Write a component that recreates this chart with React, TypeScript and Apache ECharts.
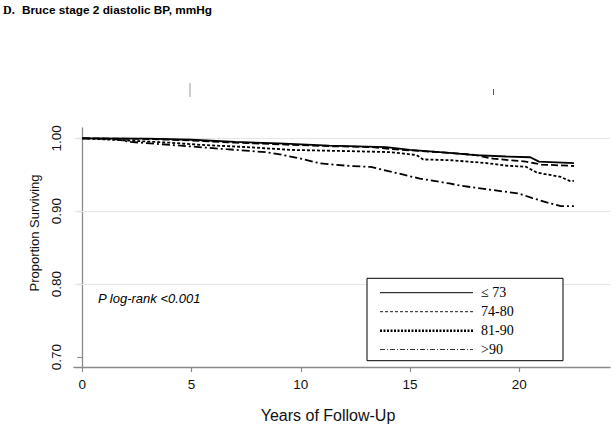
import React, { useEffect, useRef } from "react";
import * as echarts from "echarts";

const categories = ["\u2264 73", "74-80", "81-90", ">90"];

const yearsLe73 = [0, 3, 5, 7, 9, 11.3, 13.9, 15, 16.8, 18, 19.4, 20.5, 20.9, 22.5];
const survLe73 = [1.0, 0.9995, 0.998, 0.995, 0.993, 0.99, 0.988, 0.984, 0.98, 0.977, 0.975, 0.974, 0.968, 0.966];

const years7480 = [0, 3, 5, 7, 9.6, 11.5, 13.2, 14.2, 16.8, 18, 18.8, 20.3, 21, 22.5];
const surv7480 = [1.0, 0.999, 0.997, 0.994, 0.991, 0.989, 0.988, 0.985, 0.98, 0.977, 0.972, 0.968, 0.964, 0.962];

const years8190 = [0, 2, 4, 5.4, 7.5, 9.6, 12, 14.1, 15.3, 15.6, 16.8, 18.5, 19.4, 20.3, 20.8, 21.9, 22.3, 22.5];
const surv8190 = [1.0, 0.997, 0.994, 0.991, 0.988, 0.984, 0.9825, 0.981, 0.977, 0.971, 0.97, 0.966, 0.9625, 0.961, 0.953, 0.947, 0.9415, 0.9415];

const yearsGt90 = [0, 1.5, 2.2, 4, 6.6, 8.4, 9.2, 10, 10.9, 12.25, 13.2, 14.5, 15.45, 16.8, 17.3, 18.8, 20, 20.6, 21.25, 21.9, 22.5];
const survGt90 = [1.0, 0.999, 0.995, 0.991, 0.985, 0.981, 0.977, 0.972, 0.9655, 0.962, 0.9607, 0.9515, 0.9447, 0.938, 0.935, 0.929, 0.924, 0.918, 0.912, 0.907, 0.907];

const xTicks = [0, 5, 10, 15, 20];
const yTicks = [0.7, 0.8, 0.9, 1.0];
const gridValues = [0.8, 0.9, 1.0];

const titlePrefix = "D.";
const titleText = "Bruce stage 2 diastolic BP, mmHg";
const yName = "Proportion Surviving";
const xName = "Years of Follow-Up";
const pLabel = "P log-rank <0.001";

const zip = (xs: number[], ys: number[]) => xs.map((x, i) => [x, ys[i]]);

export default function App() {
  const ref = useRef<HTMLDivElement>(null);
  useEffect(() => {
    if (!ref.current) return;
    const chart = echarts.init(ref.current, null, { renderer: "svg" });
    const seriesData = [
      zip(yearsLe73, survLe73),
      zip(years7480, surv7480),
      zip(years8190, surv8190),
      zip(yearsGt90, survGt90),
    ];
    const plotStyles: any[] = [
      { type: "solid", width: 1.8 },
      { type: [7, 3], width: 1.8 },
      { type: [3, 2], width: 1.8 },
      { type: [8, 3, 2, 3], width: 1.8 },
    ];
    const legendStyles: any[] = [
      { lineDash: null, lineWidth: 1 },
      { lineDash: [3, 2], lineWidth: 0.9 },
      { lineDash: [2, 1.5], lineWidth: 2.6 },
      { lineDash: [5, 2, 1, 2], lineWidth: 0.8 },
    ];
    const legendRows = [292.7, 311.7, 330.7, 349.5];
    const legendGraphics: any[] = [];
    categories.forEach((c, i) => {
      legendGraphics.push({
        type: "line",
        shape: { x1: 380, y1: legendRows[i], x2: 473, y2: legendRows[i] },
        style: { stroke: "#000", lineWidth: legendStyles[i].lineWidth, lineDash: legendStyles[i].lineDash },
        z: 10,
      });
      legendGraphics.push({
        type: "text",
        x: 481,
        y: legendRows[i],
        style: {
          text: c,
          font: "14px 'Liberation Serif', 'Times New Roman', serif",
          fill: "#000",
          verticalAlign: "middle",
        },
        z: 10,
      });
    });

    const option: any = {
      animation: false,
      grid: { left: 74, right: 4, top: 128, bottom: 68, containLabel: false },
      xAxis: {
        type: "value",
        min: -0.38,
        max: 24.15,
        axisLine: { show: true, lineStyle: { color: "#8a8a8a", width: 1.3 } },
        axisTick: { show: true, length: 5, customValues: xTicks, lineStyle: { color: "#8a8a8a", width: 1.2 } },
        axisLabel: {
          customValues: xTicks,
          margin: 10,
          fontSize: 13.5,
          color: "#111",
          fontFamily: "'Liberation Sans', Arial, sans-serif",
        },
        splitLine: { show: false },
      },
      yAxis: {
        type: "value",
        min: 0.6863,
        max: 1.0141,
        axisLine: { show: true, lineStyle: { color: "#8a8a8a", width: 1.3 } },
        axisTick: { show: true, length: 5, customValues: yTicks, lineStyle: { color: "#8a8a8a", width: 1.2 } },
        axisLabel: {
          customValues: yTicks,
          rotate: 90,
          margin: 11,
          fontSize: 13.5,
          color: "#111",
          fontFamily: "'Liberation Sans', Arial, sans-serif",
          formatter: (v: number) => v.toFixed(2),
        },
        splitLine: { show: false },
      },
      series: [
        {
          type: "line",
          data: [[0, 1]],
          showSymbol: false,
          symbol: "none",
          lineStyle: { opacity: 0 },
          silent: true,
          z: 1,
          markLine: {
            silent: true,
            symbol: ["none", "none"],
            label: { show: false },
            lineStyle: { color: "#e6e6e6", width: 1, type: "solid" },
            data: gridValues.map((v) => ({ yAxis: v })),
          },
        },
        ...seriesData.map((d, i) => ({
          type: "line",
          name: categories[i],
          data: d,
          showSymbol: false,
          symbol: "none",
          z: 5,
          lineStyle: { color: "#000", ...plotStyles[i] },
        })),
      ],
      graphic: [
        {
          type: "text",
          x: 3,
          y: 3.5,
          style: {
            text: titlePrefix,
            font: "bold 12px 'Liberation Serif', 'Times New Roman', serif",
            fill: "#000",
            verticalAlign: "top",
          },
        },
        {
          type: "text",
          x: 22,
          y: 3.5,
          style: {
            text: titleText,
            font: "bold 11.8px 'Liberation Sans', Arial, sans-serif",
            fill: "#000",
            verticalAlign: "top",
          },
        },
        {
          type: "line",
          shape: { x1: 190, y1: 83, x2: 190, y2: 97 },
          style: { stroke: "#9a9a9a", lineWidth: 1 },
        },
        {
          type: "line",
          shape: { x1: 493.5, y1: 89, x2: 493.5, y2: 95 },
          style: { stroke: "#555", lineWidth: 1 },
        },
        {
          type: "text",
          x: 34,
          y: 233,
          rotation: Math.PI / 2,
          style: {
            text: yName,
            font: "13px 'Liberation Sans', Arial, sans-serif",
            fill: "#111",
            align: "center",
            verticalAlign: "middle",
          },
        },
        {
          type: "text",
          x: 328,
          y: 415,
          style: {
            text: xName,
            font: "16px 'Liberation Sans', Arial, sans-serif",
            fill: "#111",
            align: "center",
            verticalAlign: "middle",
          },
        },
        {
          type: "text",
          x: 98,
          y: 298,
          style: {
            text: pLabel,
            font: "italic 13px 'Liberation Sans', Arial, sans-serif",
            fill: "#000",
            align: "left",
            verticalAlign: "middle",
          },
        },
        {
          type: "rect",
          shape: { x: 367, y: 278.3, width: 196, height: 82.4 },
          style: { fill: "#fff", stroke: "#000", lineWidth: 1 },
          z: 9,
        },
        ...legendGraphics,
      ],
    };
    chart.setOption(option);
    return () => chart.dispose();
  }, []);
  return <div ref={ref} style={{ position: "absolute", left: 0, top: 0, width: 614, height: 435 }} />;
}
